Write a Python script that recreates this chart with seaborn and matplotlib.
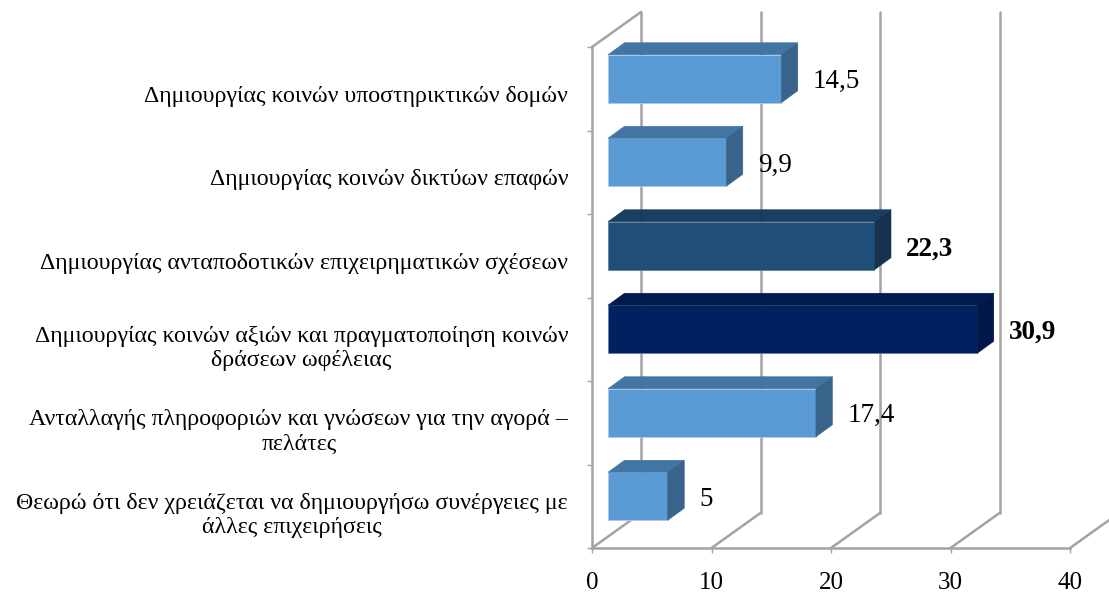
import matplotlib
matplotlib.use("Agg")
import matplotlib.pyplot as plt
import seaborn as sns
from matplotlib.patches import Polygon
from matplotlib.transforms import Affine2D

categories = [
    "Δημιουργίας κοινών υποστηρικτικών δομών",
    "Δημιουργίας κοινών δικτύων επαφών",
    "Δημιουργίας ανταποδοτικών επιχειρηματικών σχέσεων",
    "Δημιουργίας κοινών αξιών και πραγματοποίηση κοινών\nδράσεων ωφέλειας",
    "Ανταλλαγής πληροφοριών και γνώσεων για την αγορά –\nπελάτες",
    "Θεωρώ ότι δεν χρειάζεται να δημιουργήσω συνέργειες με\nάλλες επιχειρήσεις",
]
values = [14.5, 9.9, 22.3, 30.9, 17.4, 5]
value_labels = ["14,5", "9,9", "22,3", "30,9", "17,4", "5"]
label_weights = ["normal", "normal", "bold", "bold", "normal", "normal"]
x_ticks = [0, 10, 20, 30, 40]

front_colors = ["#5B9BD5", "#5B9BD5", "#1F4E79", "#002060", "#5B9BD5", "#5B9BD5"]
top_colors = ["#4275A3", "#4275A3", "#1A3E62", "#001A4E", "#4275A3", "#4275A3"]
side_colors = ["#38638B", "#38638B", "#16324F", "#00174A", "#38638B", "#38638B"]
edge_colors = ["#A9CBEA", "#A9CBEA", "#5F83A8", "#5F83A8", "#A9CBEA", "#A9CBEA"]
GRID = "#A3A3A3"
FIG_W, FIG_H = 1109, 594
LEFT, RIGHT, TOP, BOTTOM = 592, 1070, 47, 548

sns.set_theme(style="white")
plt.rcParams["font.family"] = ["Liberation Serif", "DejaVu Serif"]

fig = plt.figure(figsize=(FIG_W / 100, FIG_H / 100), dpi=100, facecolor="white")
ax = fig.add_axes([LEFT / FIG_W, 1 - BOTTOM / FIG_H,
                   (RIGHT - LEFT) / FIG_W, (BOTTOM - TOP) / FIG_H])

sns.barplot(x=values, y=categories, hue=categories, palette=front_colors,
            dodge=False, legend=False, orient="h", width=48 / 83.5,
            saturation=1, ax=ax)
ax.set_xlim(0, 40)
ax.set_ylim(5.5, -0.5)

# conversion between pixels and data units for the oblique projection
px_x = (RIGHT - LEFT) / 40
px_y = (BOTTOM - TOP) / 6
wall_dx, wall_dy = 49 / px_x, -35 / px_y
bar_dx, bar_dy = 16 / px_x, -10 / px_y
depth_dx, depth_dy = 16.5 / px_x, -12 / px_y

# walls and floor behind the bars
for t in x_ticks:
    ax.plot([t, t + wall_dx], [5.5, 5.5 + wall_dy], color=GRID, lw=1.8,
            clip_on=False, zorder=1, solid_capstyle="round")
    ax.plot([t + wall_dx, t + wall_dx], [5.5 + wall_dy, -0.5 + wall_dy],
            color=GRID, lw=1.8, clip_on=False, zorder=1)
ax.plot([0, wall_dx], [-0.5, -0.5 + wall_dy], color=GRID, lw=1.8,
        clip_on=False, zorder=1)

# shift every bar into the middle of the depth and add its top and side faces
shift = Affine2D().translate(bar_dx, bar_dy) + ax.transData
for i, patch in enumerate(ax.patches):
    patch.set_transform(shift)
    patch.set_edgecolor(edge_colors[i])
    patch.set_linewidth(0.6)
    patch.set_zorder(3)
    x1 = patch.get_width() + bar_dx
    y0 = patch.get_y() + bar_dy
    y1 = y0 + patch.get_height()
    x0 = bar_dx
    ax.add_patch(Polygon(
        [(x0, y0), (x1, y0), (x1 + depth_dx, y0 + depth_dy), (x0 + depth_dx, y0 + depth_dy)],
        closed=True, facecolor=top_colors[i], edgecolor=top_colors[i], lw=0.4,
        zorder=3, clip_on=False))
    ax.add_patch(Polygon(
        [(x1, y0), (x1 + depth_dx, y0 + depth_dy), (x1 + depth_dx, y1 + depth_dy), (x1, y1)],
        closed=True, facecolor=side_colors[i], edgecolor=side_colors[i], lw=0.4,
        zorder=3, clip_on=False))

# value labels to the right of each bar
for i, (v, txt, w) in enumerate(zip(values, value_labels, label_weights)):
    ax.annotate(txt, (v, i), xytext=(47.5 * 0.72, 7 * 0.72), textcoords="offset points",
                ha="left", va="center", fontsize=19.5, fontweight=w, color="black",
                annotation_clip=False, zorder=5)

# axes
for name in ("top", "right"):
    ax.spines[name].set_visible(False)
for name in ("left", "bottom"):
    ax.spines[name].set_color(GRID)
    ax.spines[name].set_linewidth(1.8)
    ax.spines[name].set_zorder(2)

ax.set_xticks(x_ticks)
ax.set_xticklabels([str(t) for t in x_ticks], fontsize=18, color="black")
ax.set_yticks([y - 0.5 for y in range(7)], minor=True)
ax.set_yticks(range(6))
ax.set_yticklabels(categories, fontsize=17.2, color="black", multialignment="center",
                   linespacing=1.2)
ax.tick_params(axis="x", length=3.6, width=1, color=GRID, pad=13.5, bottom=True)
ax.tick_params(axis="y", which="major", length=0, pad=17.2, left=False)
ax.tick_params(axis="y", which="minor", length=3.6, width=1, color=GRID, left=True)
down = Affine2D().translate(0, -5)
for lab in ax.get_yticklabels():
    lab.set_transform(lab.get_transform() + down)
ax.set_xlabel("")
ax.set_ylabel("")

fig.savefig("out.png", dpi=100, facecolor="white")
